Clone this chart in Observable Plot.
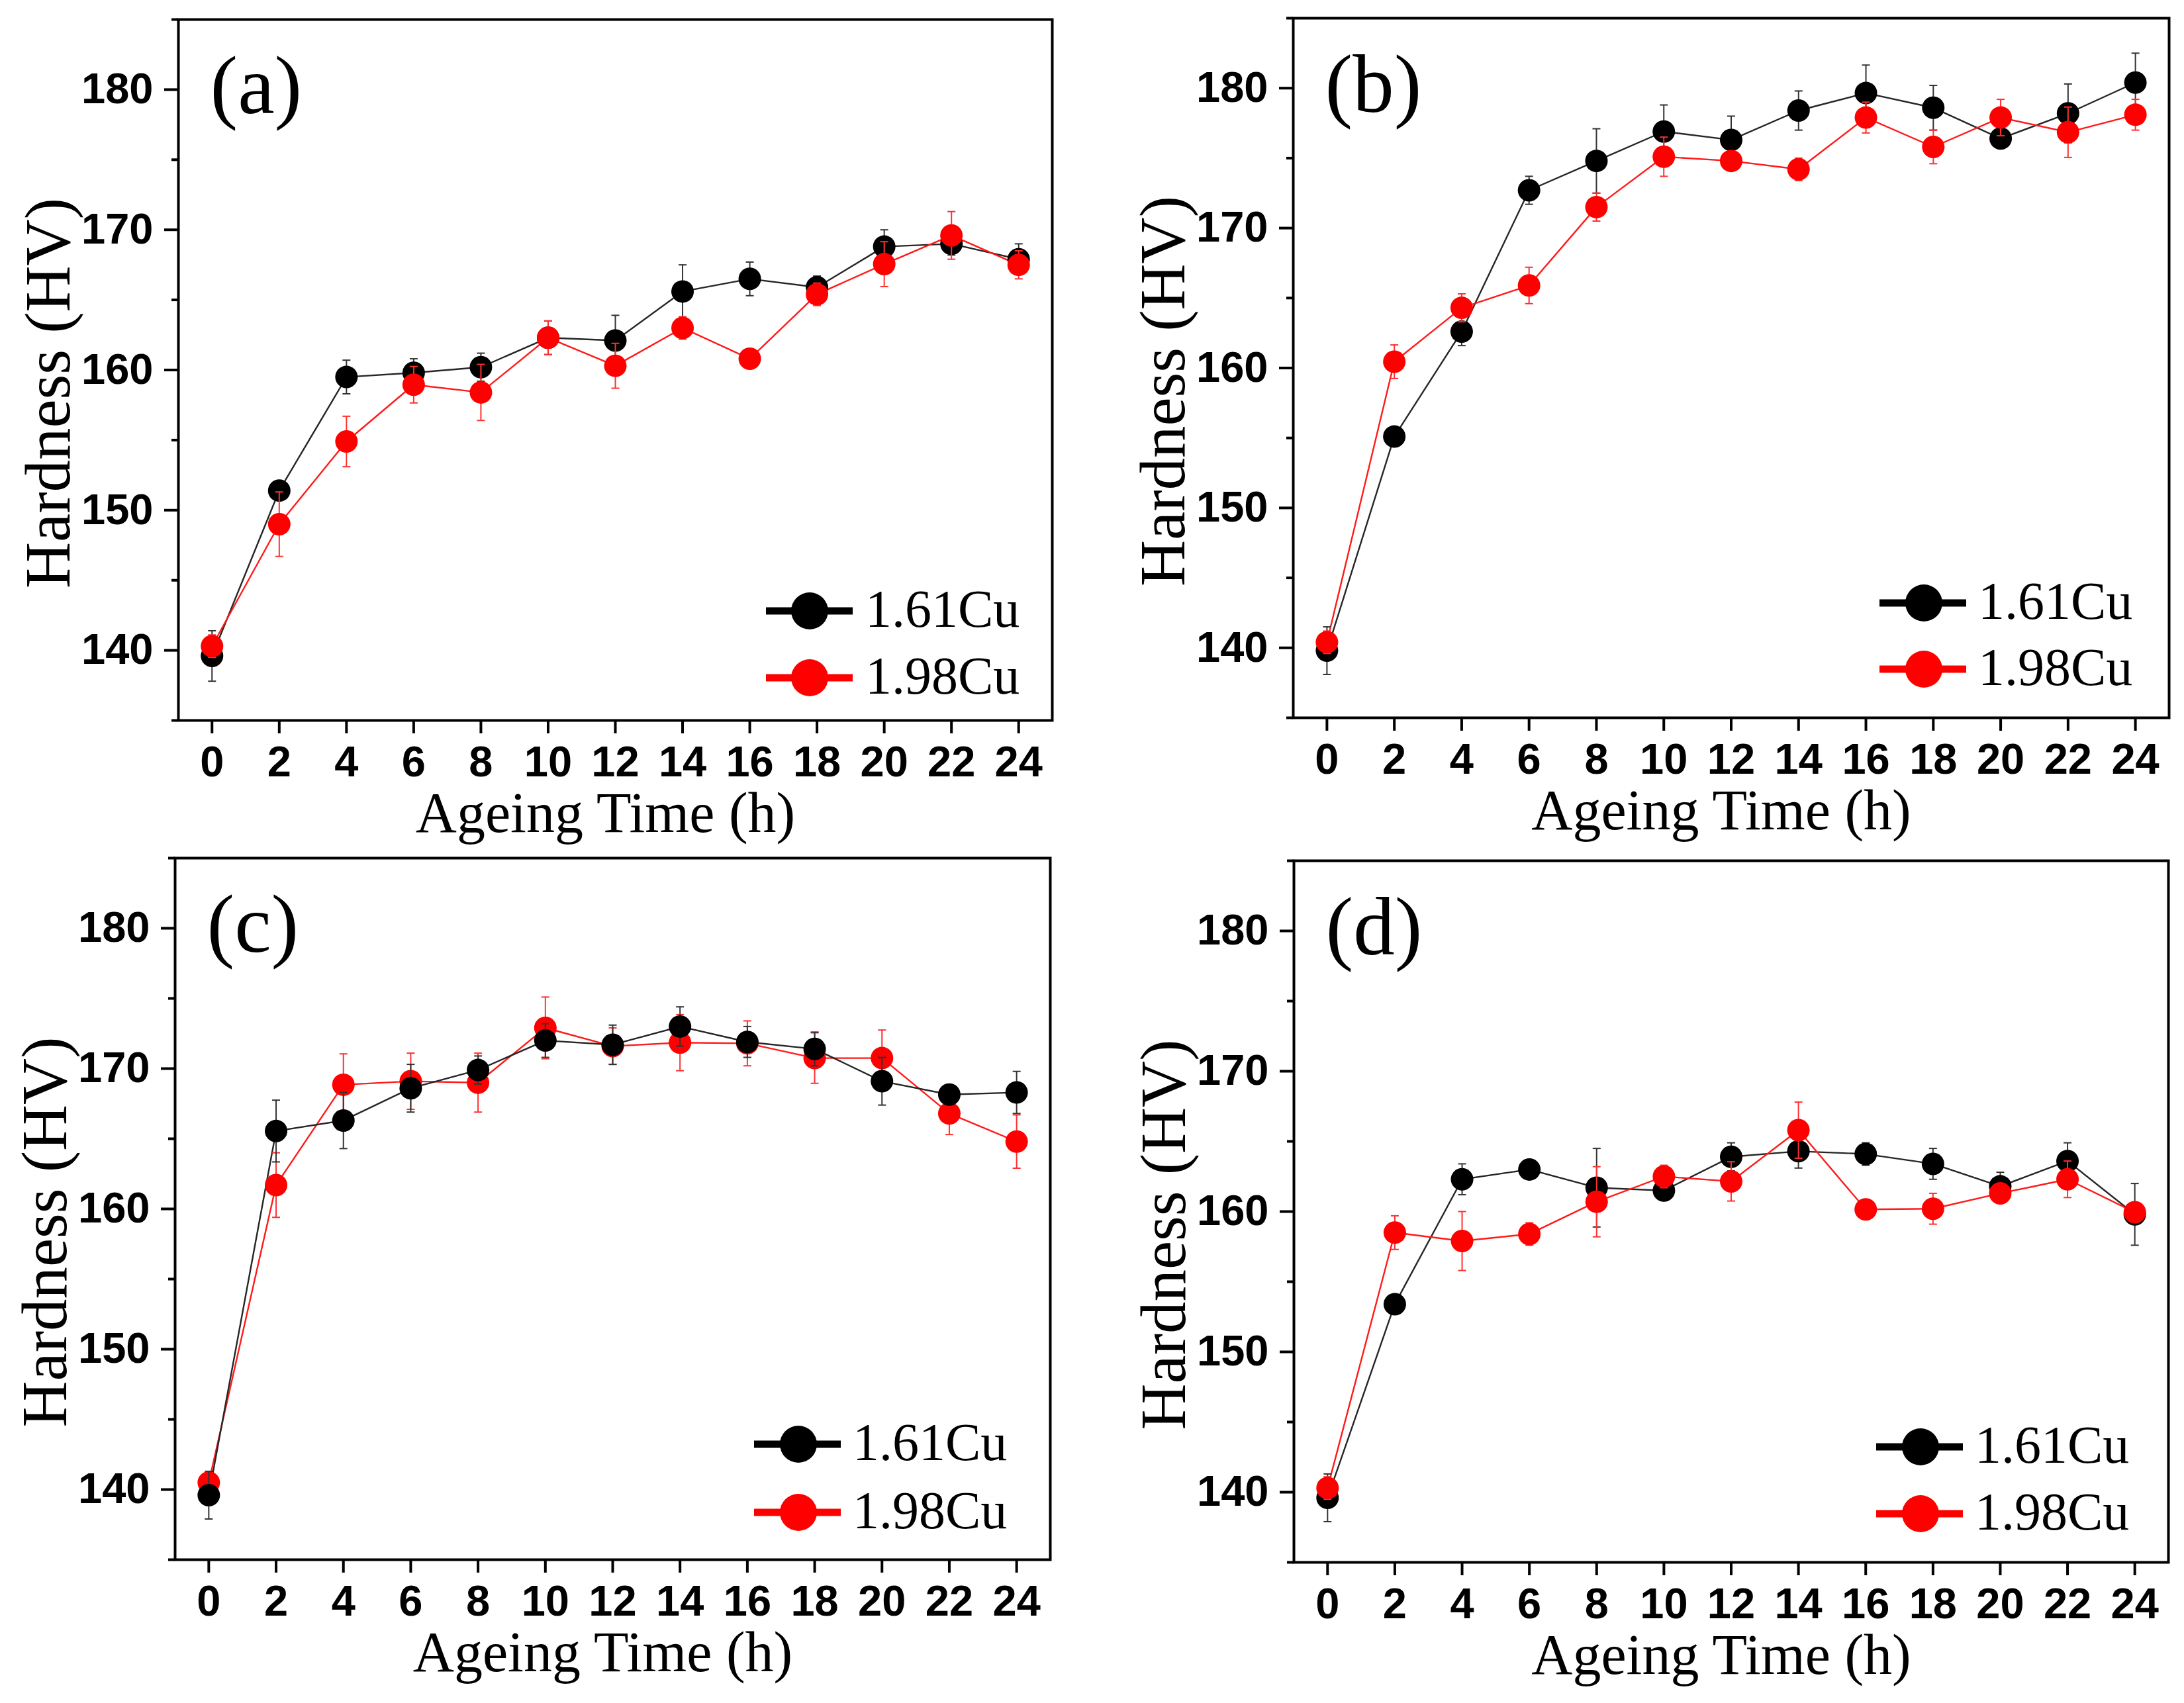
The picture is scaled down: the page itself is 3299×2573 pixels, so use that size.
<!DOCTYPE html>
<html>
<head>
<meta charset="utf-8">
<script src="https://cdn.jsdelivr.net/npm/d3@7"></script>
<script src="https://cdn.jsdelivr.net/npm/@observablehq/plot@0.6"></script>
<style>
  html, body { margin: 0; padding: 0; background: #fff; }
  #fig { position: relative; width: 3299px; height: 2573px; background: #fff; overflow: hidden; }
  #fig svg { position: absolute; background: transparent; }
</style>
</head>
<body>
<div id="fig"></div>
<script>
// ---------- data ----------
const times = [0, 2, 4, 6, 8, 10, 12, 14, 16, 18, 20, 22, 24];
const seriesNames = ["1.61Cu", "1.98Cu"];
const yTicks = [140, 150, 160, 170, 180];
const yMinorTicks = [135, 145, 155, 165, 175, 185];
const panelLabels = ["(a)", "(b)", "(c)", "(d)"];
const xTitle = "Ageing Time (h)";
const yTitle = "Hardness (HV)";

const a161    = [139.6, 151.4, 159.5, 159.8, 160.2, 162.3, 162.1, 165.6, 166.5, 165.9, 168.8, 169.0, 167.9];
const a161Err = [1.8, 0.6, 1.2, 1.0, 1.0, 1.2, 1.8, 1.9, 1.2, 0.8, 1.2, 0.8, 1.1];
const a198    = [140.3, 149.0, 154.9, 158.95, 158.4, 162.3, 160.3, 163.0, 160.8, 165.4, 167.55, 169.6, 167.5];
const a198Err = [0.8, 2.3, 1.8, 1.3, 2.0, 1.2, 1.6, 0.8, 0.5, 0.8, 1.6, 1.7, 1.0];

const b161    = [139.8, 155.1, 162.6, 172.7, 174.8, 176.9, 176.3, 178.4, 179.65, 178.6, 176.4, 178.2, 180.4];
const b161Err = [1.7, 0.7, 1.0, 1.0, 2.3, 1.9, 1.7, 1.4, 2.0, 1.6, 0.7, 2.1, 2.1];
const b198    = [140.4, 160.45, 164.3, 165.9, 171.5, 175.1, 174.8, 174.2, 177.9, 175.8, 177.9, 176.85, 178.1];
const b198Err = [0.8, 1.2, 1.0, 1.3, 1.0, 1.4, 0.7, 0.8, 1.1, 1.2, 1.3, 1.8, 1.1];

const c161    = [139.6, 165.55, 166.3, 168.6, 169.9, 172.0, 171.7, 173.0, 171.9, 171.4, 169.1, 168.15, 168.3];
const c161Err = [1.7, 2.2, 2.0, 1.7, 1.0, 1.2, 1.4, 1.4, 1.1, 1.2, 1.7, 0.7, 1.5];
const c198    = [140.5, 161.7, 168.85, 169.1, 169.0, 172.9, 171.6, 171.85, 171.8, 170.75, 170.75, 166.8, 164.8];
const c198Err = [0.7, 2.3, 2.2, 2.0, 2.1, 2.2, 1.3, 2.0, 1.6, 1.8, 2.0, 1.5, 1.9];

const d161    = [139.6, 153.4, 162.3, 163.0, 161.7, 161.5, 163.9, 164.3, 164.1, 163.4, 161.8, 163.6, 159.8];
const d161Err = [1.7, 0.5, 1.1, 0.5, 2.8, 0.6, 1.0, 1.2, 0.8, 1.1, 1.0, 1.3, 2.2];
const d198    = [140.3, 158.5, 157.9, 158.4, 160.7, 162.5, 162.15, 165.8, 160.15, 160.2, 161.3, 162.3, 159.95];
const d198Err = [0.8, 1.2, 2.1, 0.8, 2.5, 0.8, 1.4, 2.0, 0.6, 1.1, 0.7, 1.3, 0.7];

// ---------- layout / style ----------
const colors = {"1.61Cu": "#000000", "1.98Cu": "#ff0000"};
const lineColors = {"1.61Cu": "#262626", "1.98Cu": "#ff1a1a"};
const errColors = {"1.61Cu": "#333333", "1.98Cu": "#ff3030"};

const panels = [
  {label: panelLabels[0], s: [a161, a198], e: [a161Err, a198Err], left: 0,    top: 0,    w: 1650, h: 1287, mL: 269, mR: 61, mT: 29, mB: 199, order: [0, 1],
   leg: {text: -282, x1: -432, x2: -301, cx: -366, r1: -165, r2: -64}},
  {label: panelLabels[1], s: [b161, b198], e: [b161Err, b198Err], left: 1650, top: 0,    w: 1649, h: 1287, mL: 303, mR: 23, mT: 27, mB: 203, order: [0, 1],
   leg: {text: -288, x1: -437, x2: -306, cx: -370, r1: -173, r2: -73}},
  {label: panelLabels[2], s: [c161, c198], e: [c161Err, c198Err], left: 0,    top: 1287, w: 1650, h: 1286, mL: 264, mR: 64, mT: 9,  mB: 217, order: [1, 0],
   leg: {text: -298, x1: -447, x2: -316, cx: -380, r1: -174, r2: -71}},
  {label: panelLabels[3], s: [d161, d198], e: [d161Err, d198Err], left: 1650, top: 1287, w: 1649, h: 1286, mL: 304, mR: 24, mT: 13, mB: 213, order: [0, 1],
   leg: {text: -292, x1: -441, x2: -310, cx: -374, r1: -174, r2: -73}}
];

const capSymbol = {
  draw(ctx, size) {
    const w = Math.sqrt(size / Math.PI);
    ctx.moveTo(-w, 0);
    ctx.lineTo(w, 0);
  }
};

const serif = "'Liberation Serif', 'Times New Roman', serif";
const sans = "'Liberation Sans', Arial, sans-serif";
const fig = document.getElementById("fig");

for (const p of panels) {
  const marks = [];
  const rowsFor = (k) => times.map((t, i) => ({t, v: p.s[k][i], lo: p.s[k][i] - p.e[k][i], hi: p.s[k][i] + p.e[k][i]}));
  for (const k of p.order) {
    const name = seriesNames[k];
    marks.push(Plot.line(rowsFor(k), {x: "t", y: "v", stroke: lineColors[name], strokeWidth: 2.4}));
  }
  for (const k of p.order) {
    const name = seriesNames[k];
    const rows = rowsFor(k);
    marks.push(Plot.ruleX(rows, {x: "t", y1: "lo", y2: "hi", stroke: errColors[name], strokeWidth: 2}));
    marks.push(Plot.dot(rows, {x: "t", y: "hi", symbol: capSymbol, r: 6, stroke: errColors[name], strokeWidth: 2, fill: "none"}));
    marks.push(Plot.dot(rows, {x: "t", y: "lo", symbol: capSymbol, r: 6, stroke: errColors[name], strokeWidth: 2, fill: "none"}));
    marks.push(Plot.dot(rows, {x: "t", y: "v", r: 17, fill: colors[name], stroke: "none"}));
  }

  const plot = Plot.plot({
    width: p.w,
    height: p.h,
    marginLeft: p.mL,
    marginRight: p.mR,
    marginTop: p.mT,
    marginBottom: p.mB,
    style: {fontFamily: sans, fontSize: "65px", color: "#000", background: "transparent"},
    x: {domain: [-1, 25]},
    y: {domain: [135, 185]},
    marks: [
      Plot.axisX({ticks: times, tickSize: 20, tickPadding: 18, label: null, fontSize: 65, fontWeight: "bold", strokeWidth: 4, fontFamily: sans}),
      Plot.axisY({ticks: yTicks, tickSize: 21, tickPadding: 17, label: null, fontSize: 65, fontWeight: "bold", strokeWidth: 4, fontFamily: sans}),
      Plot.axisY({ticks: yMinorTicks, tickSize: 10, tickPadding: 0, label: null, tickFormat: () => "", strokeWidth: 4}),
      ...marks,
      Plot.frame({strokeWidth: 4, stroke: "#000"}),
      Plot.text([p.label], {frameAnchor: "top-left", dx: 48, dy: 141, textAnchor: "start", lineAnchor: "bottom",
        fontFamily: serif, fontSize: 125, fill: "#000"}),
      Plot.text([xTitle], {frameAnchor: "bottom", dx: -15, dy: 168, textAnchor: "middle", lineAnchor: "bottom",
        fontFamily: serif, fontSize: 86, fill: "#000"}),
      Plot.text([yTitle], {frameAnchor: "left", rotate: -90, dx: -165, dy: 35, textAnchor: "middle", lineAnchor: "bottom",
        fontFamily: serif, fontSize: 97, fill: "#000"})
    ]
  });
  plot.style.left = p.left + "px";
  plot.style.top = p.top + "px";
  fig.appendChild(plot);

  // legend (inside frame, lower right)
  const right = p.w - p.mR;
  const bottom = p.h - p.mB;
  const svg = d3.select(plot);
  const g = svg.append("g").attr("class", "legend").attr("text-anchor", "start");
  [p.leg.r1, p.leg.r2].forEach((dyRow, k) => {
    const name = seriesNames[k];
    const y = bottom + dyRow;
    g.append("line").attr("x1", right + p.leg.x1).attr("x2", right + p.leg.x2)
      .attr("y1", y).attr("y2", y).attr("stroke", colors[name]).attr("stroke-width", 11);
    g.append("circle").attr("cx", right + p.leg.cx).attr("cy", y).attr("r", 28).attr("fill", colors[name]);
    g.append("text").attr("x", right + p.leg.text).attr("y", y + 24)
      .attr("text-anchor", "start")
      .attr("font-family", serif).attr("font-size", 80).attr("fill", "#000").text(name);
  });
}
</script>
</body>
</html>
